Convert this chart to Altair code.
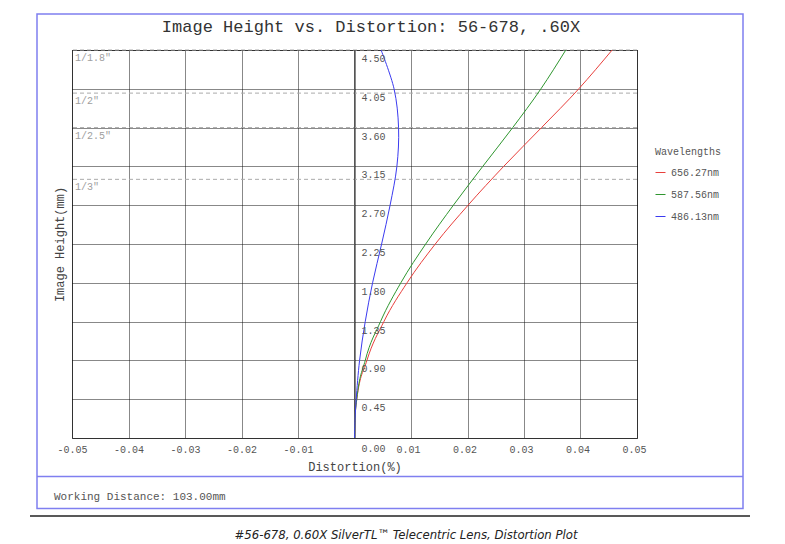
import altair as alt
import pandas as pd

# ---- data ----
heights = [0.0, 0.225, 0.45, 0.9, 1.35, 1.8, 2.25, 2.7, 3.15, 3.6, 4.05, 4.5]
red_656 = [0.0, 0.0001, 0.0004, 0.0022, 0.0052, 0.0093, 0.0143, 0.0201, 0.0264, 0.0331, 0.0397, 0.0456]
green_587 = [0.0, 0.0001, 0.0004, 0.0019, 0.0046, 0.0082, 0.0126, 0.0175, 0.0227, 0.0280, 0.0330, 0.0374]
blue_486 = [0.0, 0.0001, 0.0003, 0.0009, 0.0019, 0.0032, 0.0048, 0.0063, 0.0075, 0.0078, 0.0070, 0.0047]
series_names = ["656.27nm", "587.56nm", "486.13nm"]
series_colors = ["#e8403c", "#2f962f", "#3b3bf0"]

x_ticks = [-0.05, -0.04, -0.03, -0.02, -0.01, 0.0, 0.01, 0.02, 0.03, 0.04, 0.05]
x_zero_label = "0.00"
y_ticks = [0.0, 0.45, 0.9, 1.35, 1.8, 2.25, 2.7, 3.15, 3.6, 4.05, 4.5]
y_label_values = [0.45, 0.9, 1.35, 1.8, 2.25, 2.7, 3.15, 3.6, 4.05, 4.5]
y_label_texts = ["0.45", "0.90", "1.35", "1.80", "2.25", "2.70", "3.15", "3.60", "4.05", "4.50"]

sensor_heights = [4.5, 4.0, 3.6, 3.0]
sensor_labels = ['1/1.8"', '1/2"', '1/2.5"', '1/3"']

MONO = "Liberation Mono"

rows = []
for name, vals in zip(series_names, [red_656, green_587, blue_486]):
    for h, d in zip(heights, vals):
        rows.append({"series": name, "h": h, "d": d})
curves = pd.DataFrame(rows)
ylabels = pd.DataFrame({"h": y_label_values, "t": y_label_texts})
sensors = pd.DataFrame({"h": sensor_heights, "t": sensor_labels})
zero_lab = pd.DataFrame({"d": [0.0], "h": [0.0], "t": [x_zero_label]})
one = pd.DataFrame({"a": [0]})

xscale = alt.Scale(domain=[-0.05, 0.05], nice=False, zero=False)
yscale = alt.Scale(domain=[0, 4.5], nice=False, zero=False)

label_expr = "datum.value == 0 ? '' : replace(datum.label, '\u2212', '-')"

GRID = "#111"
x_axis = alt.Axis(
    values=x_ticks, format=".2f", labelExpr=label_expr, labelFlush=False,
    labelOffset={"condition": {"test": "datum.value > 0", "value": -3}, "value": 0},
    grid=True, gridDash=[1, 1], gridColor=GRID, gridWidth=1,
    ticks=False, domain=False,
    labelFont=MONO, labelFontSize=10, labelColor="#555", labelPadding=6,
    title="Distortion(%)", titleFont=MONO, titleFontSize=12,
    titleFontWeight="normal", titleColor="#444", titlePadding=7)
y_axis = alt.Axis(
    values=y_ticks, grid=True, gridDash=[1, 1], gridColor=GRID, gridWidth=1,
    ticks=False, domain=False, labels=False,
    title="Image Height(mm)", titleFont=MONO, titleFontSize=12,
    titleFontWeight="normal", titleColor="#444", titlePadding=6)

color = alt.Color("series:N", scale=alt.Scale(domain=series_names, range=series_colors),
                  legend=alt.Legend(orient="none", legendX=583, legendY=97,
                                    title="Wavelengths", titleFont=MONO, titleFontSize=10,
                                    titleFontWeight="normal", titleColor="#555",
                                    labelFont=MONO, labelFontSize=10, labelColor="#555",
                                    symbolType="stroke", symbolSize=100, symbolStrokeWidth=1,
                                    rowPadding=11, titlePadding=10, labelOffset=5))

base_lines = alt.Chart(curves).encode(
    x=alt.X("d:Q", scale=xscale, axis=x_axis),
    y=alt.Y("h:Q", scale=yscale, axis=y_axis),
    color=color,
    order=alt.Order("h:Q"),
)
lines_rg = base_lines.mark_line(strokeWidth=1, interpolate="monotone").transform_filter(
    alt.FieldOneOfPredicate(field="series", oneOf=series_names[:2]))
lines_b = base_lines.mark_line(strokeWidth=1, interpolate="catmull-rom").transform_filter(
    alt.FieldEqualPredicate(field="series", equal=series_names[2]))

zero_line = alt.Chart(one).mark_rule(color="#555", strokeWidth=1).encode(
    x=alt.XDatum(0, scale=xscale, axis=x_axis)
)

sensor_rules = alt.Chart(sensors).mark_rule(color="#aaa", strokeDash=[4, 3], strokeWidth=1).encode(
    y=alt.Y("h:Q", scale=yscale, axis=y_axis)
)

sensor_text = alt.Chart(sensors).mark_text(
    align="left", baseline="top", dx=3, dy=3, font=MONO, fontSize=10, color="#a0a0a0"
).encode(
    x=alt.XDatum(-0.05, scale=xscale, axis=x_axis),
    y=alt.Y("h:Q", scale=yscale, axis=y_axis),
    text="t:N",
)

y_text = alt.Chart(ylabels).mark_text(
    align="left", baseline="top", dx=7, dy=4, font=MONO, fontSize=10, color="#555"
).encode(
    x=alt.XDatum(0, scale=xscale, axis=x_axis),
    y=alt.Y("h:Q", scale=yscale, axis=y_axis),
    text="t:N",
)

x_zero_text = alt.Chart(zero_lab).mark_text(
    align="left", baseline="middle", dx=7, dy=11, font=MONO, fontSize=10, color="#555"
).encode(
    x=alt.X("d:Q", scale=xscale, axis=x_axis),
    y=alt.Y("h:Q", scale=yscale, axis=y_axis),
    text="t:N",
)

BLUE = "#7f7ff0"
box = alt.Chart(one).mark_rect(fillOpacity=0, stroke=BLUE, strokeWidth=1.5).encode(
    x=alt.value(-35), x2=alt.value(671), y=alt.value(-36), y2=alt.value(458.5)
)
divider = alt.Chart(one).mark_rule(color=BLUE, strokeWidth=1.5).encode(
    x=alt.value(-35), x2=alt.value(671), y=alt.value(426.5)
)
black_line = alt.Chart(one).mark_rule(color="#222", strokeWidth=1.5).encode(
    x=alt.value(-42), x2=alt.value(678), y=alt.value(466)
)
title = alt.Chart(one).mark_text(
    text="Image Height vs. Distortion: 56-678, .60X", font=MONO, fontSize=17,
    color="#333", align="center", baseline="middle"
).encode(x=alt.value(299), y=alt.value(-23))
wd = alt.Chart(one).mark_text(
    text="Working Distance: 103.00mm", font=MONO, fontSize=11,
    color="#555", align="left", baseline="middle"
).encode(x=alt.value(-18), y=alt.value(447))
caption = alt.Chart(one).mark_text(
    text="#56-678, 0.60X SilverTL\u2122 Telecentric Lens, Distortion Plot",
    font="Liberation Sans Narrow, DejaVu Sans Condensed, sans-serif", fontSize=13,
    fontStyle="italic", color="#222", align="center", baseline="middle"
).encode(x=alt.value(334), y=alt.value(485))

chart = alt.layer(
    sensor_rules, zero_line, lines_rg, lines_b, sensor_text, y_text, x_zero_text,
    box, divider, black_line, title, wd, caption
).properties(
    width=565, height=388,
    autosize=alt.AutoSizeParams(type="none"),
    padding={"left": 64, "top": 42, "right": 140, "bottom": 104},
    background="white",
).configure_view(stroke="#555", strokeWidth=1)

chart.save("out.html", embed_options={"renderer": "svg", "actions": False})
